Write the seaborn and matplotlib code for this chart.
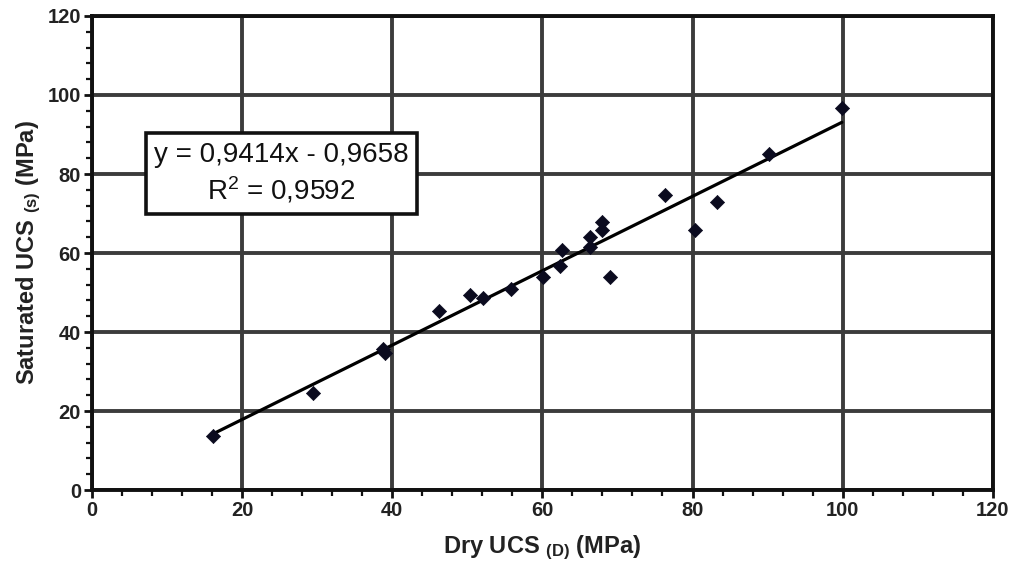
import matplotlib
matplotlib.use("Agg")
import matplotlib.pyplot as plt
from matplotlib.ticker import MultipleLocator
import numpy as np
import pandas as pd
import seaborn as sns

# Uniaxial compressive strength of specimens, dry vs. saturated (MPa)
dry_ucs = [16.1, 29.4, 38.8, 39.0, 46.2, 50.3, 52.1, 55.8, 60.1, 62.3, 62.6,
           66.3, 66.3, 67.9, 68.0, 69.0, 76.3, 80.3, 83.2, 90.2, 99.9]
sat_ucs = [13.7, 24.6, 35.6, 34.6, 45.3, 49.4, 48.6, 50.9, 53.9, 56.8, 60.8,
           61.5, 64.0, 67.9, 65.8, 53.9, 74.7, 65.8, 72.9, 85.0, 96.7]

# Linear regression reported for the data set
slope = 0.9414
intercept = -0.9658
r_squared = 0.9592

x_ticks = [0, 20, 40, 60, 80, 100, 120]
y_ticks = [0, 20, 40, 60, 80, 100, 120]

df = pd.DataFrame({"dry": dry_ucs, "sat": sat_ucs})
fit_x = np.array([min(dry_ucs), max(dry_ucs)])
fit_df = pd.DataFrame({"dry": fit_x, "sat": slope * fit_x + intercept})

sns.set_theme(style="white")
plt.rcParams["font.family"] = ["Liberation Sans", "DejaVu Sans"]
plt.rcParams["mathtext.fontset"] = "custom"
plt.rcParams["mathtext.rm"] = "Liberation Sans"
plt.rcParams["mathtext.bf"] = "Liberation Sans:bold"
plt.rcParams["mathtext.it"] = "Liberation Sans:italic"

fig = plt.figure(figsize=(10.16, 5.65), dpi=100)
ax = fig.add_axes([0.0906, 0.1327, 0.8865, 0.839])

sns.lineplot(data=fit_df, x="dry", y="sat", ax=ax, color="black",
             linewidth=2.3, zorder=3)
sns.scatterplot(data=df, x="dry", y="sat", ax=ax, marker="D", s=52,
                color="#0b0b1f", edgecolor="#0b0b1f", linewidth=0.5, zorder=4)

ax.set_xlim(0, 120)
ax.set_ylim(0, 120)
ax.set_xticks(x_ticks)
ax.set_yticks(y_ticks)
ax.xaxis.set_minor_locator(MultipleLocator(4))
ax.yaxis.set_minor_locator(MultipleLocator(4))

ax.set_axisbelow(True)
ax.grid(True, which="major", color="#3c3c3c", linewidth=2.8)
ax.grid(False, which="minor")

for side in ["left", "bottom", "top", "right"]:
    ax.spines[side].set_visible(True)
    ax.spines[side].set_color("#111111")
    ax.spines[side].set_linewidth(2.8)

ax.tick_params(axis="both", which="both", bottom=True, left=True,
               top=False, right=False)
ax.tick_params(axis="both", which="major", direction="out", length=6,
               width=2, color="#111111", labelsize=14.5, pad=2,
               labelcolor="#222222")
ax.tick_params(axis="both", which="minor", direction="out", length=4,
               width=1.6, color="#111111")
for lbl in ax.get_xticklabels() + ax.get_yticklabels():
    lbl.set_fontweight("bold")

ax.set_xlabel(r"Dry UCS $_{\mathbf{(D)}}$ (MPa)", fontsize=17,
              fontweight="bold", color="#222222", labelpad=10)
ax.set_ylabel(r"Saturated UCS $_{\mathbf{(s)}}$ (MPa)", fontsize=17,
              fontweight="bold", color="#222222", labelpad=3)

eq_text = (f"y = {slope:.4f}x - {abs(intercept):.4f}\n"
           f"R$^2$ = {r_squared:.4f}").replace(".", ",")
ax.text(25.2, 80.1, eq_text, ha="center", va="center", fontsize=20,
        linespacing=1.28, color="#111111", zorder=5,
        bbox=dict(boxstyle="square,pad=0.3", facecolor="white",
                  edgecolor="#111111", linewidth=2.6))

fig.savefig("out.png", dpi=100)
